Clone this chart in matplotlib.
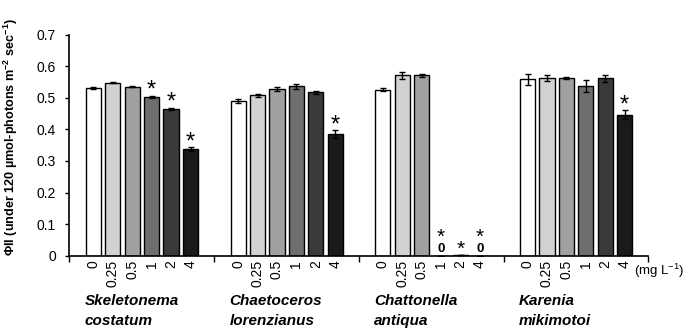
import matplotlib
matplotlib.use("Agg")
import matplotlib.pyplot as plt
import matplotlib.transforms as mtransforms
import numpy as np

plt.rcParams['font.family'] = ['Liberation Sans', 'DejaVu Sans']

doses = ['0', '0.25', '0.5', '1', '2', '4']
species = [('Skeletonema', 'costatum'), ('Chaetoceros', 'lorenzianus'),
           ('Chattonella', 'antiqua'), ('Karenia', 'mikimotoi')]

skeletonema = [0.530, 0.548, 0.535, 0.503, 0.465, 0.338]
skeletonema_err = [0.003, 0.002, 0.002, 0.004, 0.004, 0.005]
chaetoceros = [0.489, 0.508, 0.529, 0.536, 0.518, 0.385]
chaetoceros_err = [0.006, 0.004, 0.006, 0.008, 0.005, 0.012]
chattonella = [0.526, 0.571, 0.571, 0.0, 0.003, 0.0]
chattonella_err = [0.004, 0.010, 0.004, 0.0, 0.0, 0.0]
karenia = [0.558, 0.562, 0.563, 0.537, 0.562, 0.447]
karenia_err = [0.018, 0.010, 0.003, 0.020, 0.011, 0.014]

values = [skeletonema, chaetoceros, chattonella, karenia]
errors = [skeletonema_err, chaetoceros_err, chattonella_err, karenia_err]
# significance marks (1 = asterisk)
signif = [[0, 0, 0, 1, 1, 1], [0, 0, 0, 0, 0, 1],
          [0, 0, 0, 1, 1, 1], [0, 0, 0, 0, 0, 1]]
zero_labels = [[], [], [3, 5], []]

colors = ['#ffffff', '#d2d2d2', '#a0a0a0', '#6e6e6e', '#3a3a3a', '#1a1a1a']

group_step = 7.45
fig = plt.figure(figsize=(6.85, 3.33), dpi=100)
ax = fig.add_axes([0.1, 0.232, 0.846, 0.664])
blend = mtransforms.blended_transform_factory(ax.transData, fig.transFigure)

tick_pos = []
tick_lab = []
for g in range(4):
    x = g * group_step + np.arange(6)
    ax.bar(x, values[g], width=0.78, color=colors, edgecolor='black',
           linewidth=1.0, zorder=2)
    ax.errorbar(x, values[g], yerr=errors[g], fmt='none', ecolor='black',
                elinewidth=1.0, capsize=2.5, capthick=1.0, zorder=3)
    for i in range(6):
        top = values[g][i] + errors[g][i]
        if i in zero_labels[g]:
            ax.annotate('0', (x[i], 0), xytext=(0, 3), textcoords='offset points',
                        ha='center', va='baseline', fontsize=9.5, fontweight='bold')
            ax.annotate('*', (x[i], 0), xytext=(0, 9.5), textcoords='offset points',
                        ha='center', va='baseline', fontsize=15)
        elif signif[g][i] and top < 0.05:
            ax.annotate('*', (x[i], 0), xytext=(0, 0.5), textcoords='offset points',
                        ha='center', va='baseline', fontsize=15)
        elif signif[g][i]:
            ax.annotate('*', (x[i], top), xytext=(0, -1), textcoords='offset points',
                        ha='center', va='baseline', fontsize=17)
    tick_pos.extend(x)
    tick_lab.extend(doses)
    ax.text(x[0] - 0.45, 0.066, species[g][0] + '\n' + species[g][1],
            transform=blend, ha='left', va='center', fontsize=11,
            fontweight='bold', fontstyle='italic', linespacing=1.6)

ax.set_xlim(-1.28, 28.55)
ax.set_ylim(0, 0.7)
ax.set_yticks(np.arange(0, 0.71, 0.1))
ax.set_yticklabels(['0'] + ['%.1f' % v for v in np.arange(0.1, 0.71, 0.1)],
                   fontsize=10)
ax.tick_params(axis='y', direction='out', length=3, width=1, pad=6)

ax.set_xticks(tick_pos)
ax.set_xticklabels(tick_lab, rotation=90, fontsize=10)
ax.tick_params(axis='x', length=0, pad=3)
sep = [-1.28] + [g * group_step + 6.22 for g in range(3)] + [28.55]
ax.set_xticks(sep, minor=True)
ax.tick_params(axis='x', which='minor', direction='out', length=4, width=1)

for s in ['top', 'right']:
    ax.spines[s].set_visible(False)
for s in ['left', 'bottom']:
    ax.spines[s].set_linewidth(1.2)

ax.set_ylabel(r'ΦII (under 120 µmol-photons m$^{\mathregular{-2}}$ sec$^{\mathregular{-1}}$)',
              fontsize=9.1, fontweight='bold')
ax.yaxis.set_label_coords(-0.083, 0.535)
fig.text(0.926, 0.186, r'(mg L$^{\mathregular{-1}}$)', ha='left', va='center',
         fontsize=9.5)

fig.savefig('out.png', dpi=100)
